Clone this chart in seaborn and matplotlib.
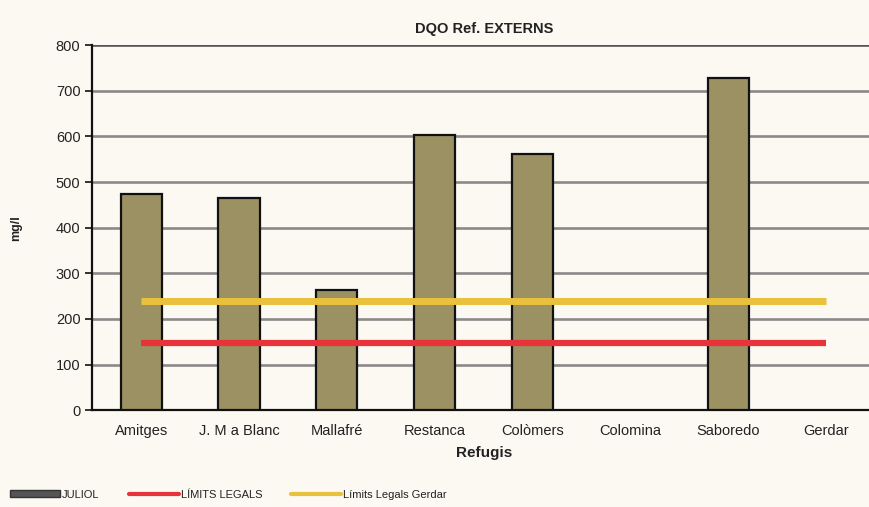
import matplotlib
matplotlib.use("Agg")
import matplotlib.pyplot as plt
import seaborn as sns
import pandas as pd
import numpy as np
from matplotlib.lines import Line2D
from matplotlib.patches import Patch

refugis = ["Amitges", "J. M a Blanc", "Mallafré", "Restanca", "Colòmers", "Colomina", "Saboredo", "Gerdar"]
juliol = [474, 464, 263, 602, 562, np.nan, 728, np.nan]
limit_legal = 148
limit_gerdar = 240
yticks = [0, 100, 200, 300, 400, 500, 600, 700, 800]

sns.set_theme(style="white")
plt.rcParams["font.family"] = ["Liberation Sans", "DejaVu Sans"]

bg = "#fbf9f2"
fig = plt.figure(figsize=(8.7, 5.07), dpi=100, facecolor=bg)
ax = fig.add_axes([0.106, 0.191, 0.9, 0.72], facecolor=bg)

df = pd.DataFrame({"Refugi": refugis, "DQO": juliol})
sns.barplot(data=df, x="Refugi", y="DQO", order=refugis, color="#9b9162", saturation=1,
            width=0.42, edgecolor="#111111", linewidth=1.6, ax=ax, zorder=3)

ax.set_ylim(0, 800)
ax.set_xlim(-0.5, len(refugis) - 0.5)
ax.set_yticks(yticks)
for y in yticks[1:]:
    ax.axhline(y, color="#8a8a8a" if y < 800 else "#555555", lw=1.9 if y < 800 else 2.6, zorder=1)

ax.hlines(limit_gerdar, 0, len(refugis) - 1, color="#e9c13c", lw=5, zorder=4)
ax.hlines(limit_legal, 0, len(refugis) - 1, color="#e8333a", lw=4.5, zorder=4)

for s in ["top", "right"]:
    ax.spines[s].set_visible(False)
ax.spines["left"].set_color("#111111")
ax.spines["left"].set_linewidth(1.6)
ax.spines["bottom"].set_color("#111111")
ax.spines["bottom"].set_linewidth(1.6)

ax.set_xticks(range(len(refugis)))
ax.set_xticklabels(refugis, fontsize=10.5, color="#222222")
ax.tick_params(axis="x", length=0, pad=10)
ax.set_xticks(np.arange(0.5, len(refugis) - 0.5, 1), minor=True)
ax.tick_params(axis="x", which="minor", length=5, width=1.2, color="#111111", direction="out")
ax.tick_params(axis="y", length=5, width=1.2, color="#111111", direction="out", labelsize=10.5,
               labelcolor="#222222", left=True)

ax.set_xlabel("Refugis", fontsize=11, fontweight="bold", color="#222222", labelpad=6)
ax.set_ylabel("mg/l", fontsize=9, fontweight="bold", color="#222222", labelpad=24)
ax.set_title("DQO Ref. EXTERNS", fontsize=10.5, fontweight="bold", color="#222222", pad=9)

handles = [Patch(facecolor="#555555", edgecolor="#333333"),
           Line2D([0], [0], color="#e8333a", lw=3),
           Line2D([0], [0], color="#e9c13c", lw=3)]
labels = ["JULIOL", "LÍMITS LEGALS", "Límits Legals Gerdar"]
fig.legend(handles, labels, loc="lower left", bbox_to_anchor=(0.0, -0.005), ncol=3, frameon=False,
           fontsize=8, handlelength=4.5, handleheight=0.5, columnspacing=2.6, handletextpad=0.2,
           labelcolor="#222222")

fig.savefig("out.png", dpi=100, facecolor=bg)
